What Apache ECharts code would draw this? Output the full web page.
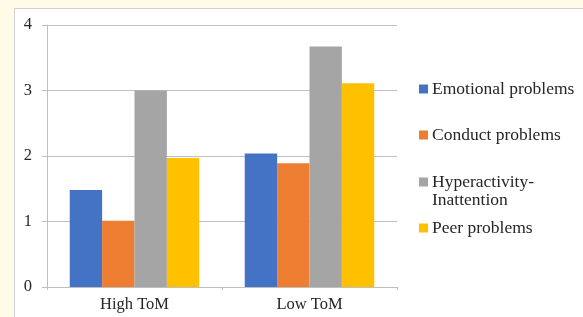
<!DOCTYPE html>
<html>
<head>
<meta charset="utf-8">
<script src="https://cdn.jsdelivr.net/npm/echarts@6/dist/echarts.min.js"></script>
<style>
  html, body { margin: 0; padding: 0; background: #fffbe8; }
  #chart { width: 583px; height: 317px; }
</style>
</head>
<body>
<div id="chart"></div>
<script>
// data
var categories = ['High ToM', 'Low ToM'];
var emotional = [1.48, 2.04];
var conduct = [1.01, 1.89];
var hyperactivity = [3.0, 3.67];
var peer = [1.97, 3.11];
var yTicks = [0, 1, 2, 3, 4];

var seriesNames = ['Emotional problems', 'Conduct problems', 'Hyperactivity-Inattention', 'Peer problems'];
var colors = ['#4472c4', '#ed7d31', '#a5a5a5', '#ffc000'];
var values = [emotional, conduct, hyperactivity, peer];

var serif = '"Liberation Serif", "Times New Roman", serif';
var textColor = '#262626';
var lineColor = '#bfbfbf';

// one legend per item so they can sit at their own heights
var legendTops = [80, 126, 155, 219];
var legends = seriesNames.map(function (name, i) {
  return {
    data: [name],
    orient: 'vertical',
    left: 419,
    top: legendTops[i],
    padding: 0,
    itemWidth: 9,
    itemHeight: 9,
    itemGap: 4,
    icon: 'rect',
    selectedMode: false,
    formatter: function (n) {
      if (n === 'Hyperactivity-Inattention') return '\nHyperactivity-\nInattention';
      return n;
    },
    textStyle: {
      fontFamily: serif,
      fontSize: 17.5,
      lineHeight: 18,
      color: textColor,
      padding: [0, 0, 0, -1]
    }
  };
});

var option = {
  backgroundColor: '#fffbe8',
  animation: false,
  color: colors,
  graphic: [{
    type: 'rect',
    z: -10,
    silent: true,
    shape: { x: 14.5, y: 8.5, width: 700, height: 400 },
    style: { fill: '#ffffff', stroke: '#d0d0d0', lineWidth: 1 }
  }],
  legend: legends,
  grid: { left: 47, right: 186, top: 25, bottom: 30 },
  xAxis: {
    type: 'category',
    data: categories,
    axisLine: { lineStyle: { color: lineColor, width: 1 } },
    axisTick: { show: true, length: 3, lineStyle: { color: lineColor } },
    axisLabel: { fontFamily: serif, fontSize: 16.5, color: textColor, margin: 9 },
    splitLine: { show: false }
  },
  yAxis: {
    type: 'value',
    min: yTicks[0],
    max: yTicks[yTicks.length - 1],
    interval: 1,
    axisLine: { show: true, lineStyle: { color: lineColor, width: 1 } },
    axisTick: { show: true, length: 5, lineStyle: { color: lineColor } },
    axisLabel: { fontFamily: serif, fontSize: 16.5, color: textColor, margin: 15 },
    splitLine: { lineStyle: { color: lineColor, width: 1 } }
  },
  series: seriesNames.map(function (name, i) {
    return {
      name: name,
      type: 'bar',
      data: values[i],
      barGap: '0%',
      barCategoryGap: '26%',
      itemStyle: { color: colors[i] }
    };
  })
};

var mychart = echarts.init(document.getElementById('chart'));
mychart.setOption(option);
</script>
</body>
</html>
